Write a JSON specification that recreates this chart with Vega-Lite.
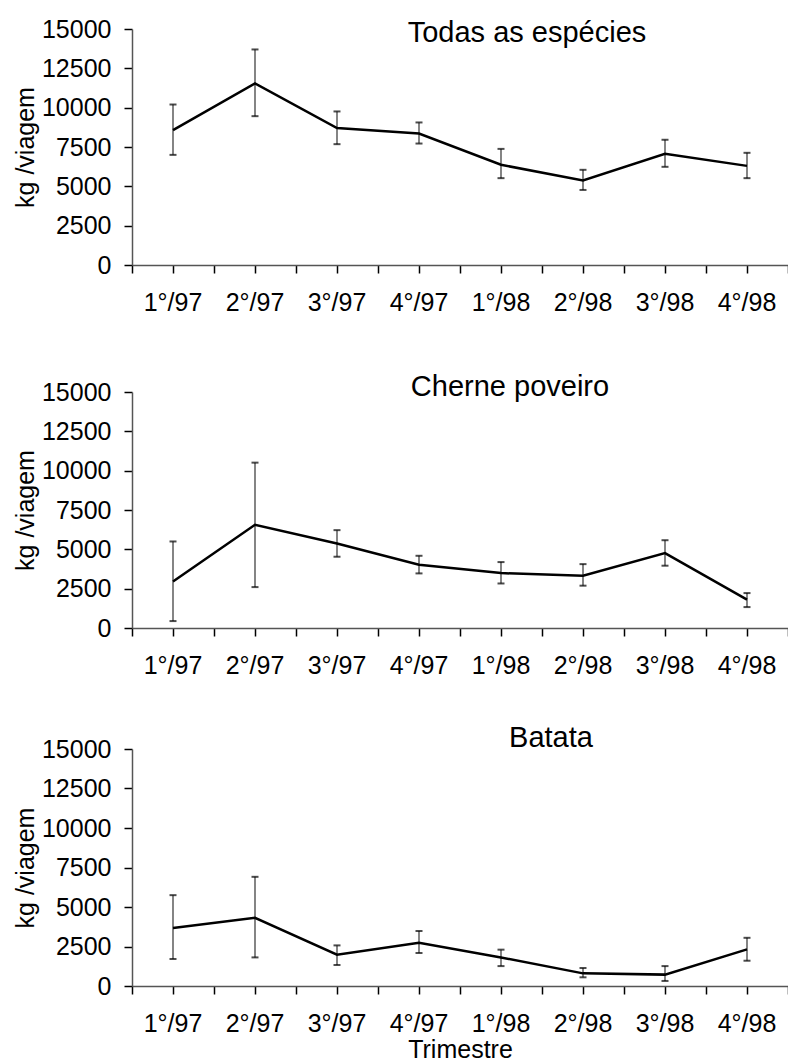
{
  "$schema": "https://vega.github.io/schema/vega-lite/v6.json",
  "padding": {"left": 13, "top": 17, "right": 0, "bottom": 0},
  "background": "#ffffff",
  "config": {
    "font": "Liberation Sans",
    "view": {"stroke": null},
    "axis": {
      "grid": false,
      "labelFont": "Liberation Sans",
      "labelFontSize": 25,
      "labelColor": "#000000",
      "titleFont": "Liberation Sans",
      "titleFontSize": 25,
      "titleFontWeight": "normal",
      "titleColor": "#000000",
      "domainColor": "#555555",
      "domainWidth": 1.5,
      "tickColor": "#000000",
      "tickWidth": 1.5,
      "tickSize": 8
    },
    "title": {"font": "Liberation Sans", "fontSize": 29, "fontWeight": "normal", "color": "#000000"}
  },
  "datasets": {
    "d": [
      {"especie": "Todas as espécies", "trimestre": "1°/97", "media": 8570, "min": 7000, "max": 10200},
      {"especie": "Todas as espécies", "trimestre": "2°/97", "media": 11540, "min": 9460, "max": 13700},
      {"especie": "Todas as espécies", "trimestre": "3°/97", "media": 8700, "min": 7680, "max": 9760},
      {"especie": "Todas as espécies", "trimestre": "4°/97", "media": 8360, "min": 7720, "max": 9060},
      {"especie": "Todas as espécies", "trimestre": "1°/98", "media": 6370, "min": 5520, "max": 7380},
      {"especie": "Todas as espécies", "trimestre": "2°/98", "media": 5370, "min": 4770, "max": 6050},
      {"especie": "Todas as espécies", "trimestre": "3°/98", "media": 7070, "min": 6240, "max": 7960},
      {"especie": "Todas as espécies", "trimestre": "4°/98", "media": 6300, "min": 5520, "max": 7130},
      {"especie": "Cherne poveiro", "trimestre": "1°/97", "media": 2960, "min": 440, "max": 5500},
      {"especie": "Cherne poveiro", "trimestre": "2°/97", "media": 6560, "min": 2600, "max": 10510},
      {"especie": "Cherne poveiro", "trimestre": "3°/97", "media": 5370, "min": 4530, "max": 6220},
      {"especie": "Cherne poveiro", "trimestre": "4°/97", "media": 4020, "min": 3470, "max": 4590},
      {"especie": "Cherne poveiro", "trimestre": "1°/98", "media": 3490, "min": 2830, "max": 4190},
      {"especie": "Cherne poveiro", "trimestre": "2°/98", "media": 3320, "min": 2690, "max": 4060},
      {"especie": "Cherne poveiro", "trimestre": "3°/98", "media": 4760, "min": 3960, "max": 5580},
      {"especie": "Cherne poveiro", "trimestre": "4°/98", "media": 1800, "min": 1330, "max": 2220},
      {"especie": "Batata", "trimestre": "1°/97", "media": 3670, "min": 1710, "max": 5750},
      {"especie": "Batata", "trimestre": "2°/97", "media": 4320, "min": 1810, "max": 6910},
      {"especie": "Batata", "trimestre": "3°/97", "media": 1980, "min": 1330, "max": 2570},
      {"especie": "Batata", "trimestre": "4°/97", "media": 2740, "min": 2090, "max": 3480},
      {"especie": "Batata", "trimestre": "1°/98", "media": 1810, "min": 1260, "max": 2300},
      {"especie": "Batata", "trimestre": "2°/98", "media": 800, "min": 550, "max": 1140},
      {"especie": "Batata", "trimestre": "3°/98", "media": 720, "min": 320, "max": 1260},
      {"especie": "Batata", "trimestre": "4°/98", "media": 2320, "min": 1600, "max": 3050}
    ]
  },
  "bounds": "flush",
  "spacing": 127,
  "vconcat": [
    {
      "width": 656, "height": 236,
      "title": {"text": "Todas as espécies", "frame": "group", "anchor": "middle", "dx": 67, "offset": -54, "baseline": "alphabetic"},
      "data": {"name": "d"},
      "transform": [{"filter": "datum.especie === 'Todas as espécies'"}],
      "layer": [
        {"layer": [
          {"mark": {"type": "rule", "color": "#333333", "strokeWidth": 1.2},
           "encoding": {
             "x": {"field": "trimestre", "type": "ordinal", "sort": ["1°/97","2°/97","3°/97","4°/97","1°/98","2°/98","3°/98","4°/98"], "scale": {"type": "band", "paddingInner": 0, "paddingOuter": 0}, "bandPosition": 0.5, "axis": {"orient": "bottom", "tickBand": "extent", "labels": false, "domain": false, "title": null}},
             "y": {"field": "min", "type": "quantitative", "scale": {"domain": [0, 15000]}, "axis": {"values": [0,2500,5000,7500,10000,12500,15000], "format": "d", "title": "kg /viagem", "titlePadding": 3, "labelPadding": 13}},
             "y2": {"field": "max"}}},
          {"mark": {"type": "tick", "color": "#000000", "size": 7, "thickness": 2},
           "encoding": {
             "x": {"field": "trimestre", "type": "ordinal", "sort": ["1°/97","2°/97","3°/97","4°/97","1°/98","2°/98","3°/98","4°/98"], "scale": {"type": "band", "paddingInner": 0, "paddingOuter": 0}, "bandPosition": 0.5, "axis": {"orient": "bottom", "tickBand": "extent", "labels": false, "domain": false, "title": null}},
             "y": {"field": "min", "type": "quantitative", "scale": {"domain": [0, 15000]}, "axis": {"values": [0,2500,5000,7500,10000,12500,15000], "format": "d", "title": "kg /viagem", "titlePadding": 3, "labelPadding": 13}}}},
          {"mark": {"type": "tick", "color": "#000000", "size": 7, "thickness": 2},
           "encoding": {
             "x": {"field": "trimestre", "type": "ordinal", "sort": ["1°/97","2°/97","3°/97","4°/97","1°/98","2°/98","3°/98","4°/98"], "scale": {"type": "band", "paddingInner": 0, "paddingOuter": 0}, "bandPosition": 0.5, "axis": {"orient": "bottom", "tickBand": "extent", "labels": false, "domain": false, "title": null}},
             "y": {"field": "max", "type": "quantitative", "scale": {"domain": [0, 15000]}, "axis": {"values": [0,2500,5000,7500,10000,12500,15000], "format": "d", "title": "kg /viagem", "titlePadding": 3, "labelPadding": 13}}}}
        ]},
        {"mark": {"type": "line", "color": "#000000", "strokeWidth": 2.5},
         "encoding": {
           "x": {"field": "trimestre", "type": "ordinal", "sort": ["1°/97","2°/97","3°/97","4°/97","1°/98","2°/98","3°/98","4°/98"], "scale": {"type": "band", "paddingInner": 0, "paddingOuter": 0}, "bandPosition": 0.5, "axis": {"orient": "bottom", "tickBand": "center", "labelAngle": 0, "labelPadding": 17, "title": null}},
           "y": {"field": "media", "type": "quantitative", "scale": {"domain": [0, 15000]}, "axis": {"values": [0,2500,5000,7500,10000,12500,15000], "format": "d", "title": "kg /viagem", "titlePadding": 3, "labelPadding": 13}}}}
      ],
      "resolve": {"axis": {"x": "independent"}}
    },
    {
      "bounds": "flush",
      "spacing": 121,
      "vconcat": [
        {
          "width": 656, "height": 236,
          "title": {"text": "Cherne poveiro", "frame": "group", "anchor": "middle", "dx": 50, "offset": -45, "baseline": "alphabetic"},
          "data": {"name": "d"},
          "transform": [{"filter": "datum.especie === 'Cherne poveiro'"}],
          "layer": [
            {"layer": [
              {"mark": {"type": "rule", "color": "#333333", "strokeWidth": 1.2},
               "encoding": {
                 "x": {"field": "trimestre", "type": "ordinal", "sort": ["1°/97","2°/97","3°/97","4°/97","1°/98","2°/98","3°/98","4°/98"], "scale": {"type": "band", "paddingInner": 0, "paddingOuter": 0}, "bandPosition": 0.5, "axis": {"orient": "bottom", "tickBand": "extent", "labels": false, "domain": false, "title": null}},
                 "y": {"field": "min", "type": "quantitative", "scale": {"domain": [0, 15000]}, "axis": {"values": [0,2500,5000,7500,10000,12500,15000], "format": "d", "title": "kg /viagem", "titlePadding": 3, "labelPadding": 13}},
                 "y2": {"field": "max"}}},
              {"mark": {"type": "tick", "color": "#000000", "size": 7, "thickness": 2},
               "encoding": {
                 "x": {"field": "trimestre", "type": "ordinal", "sort": ["1°/97","2°/97","3°/97","4°/97","1°/98","2°/98","3°/98","4°/98"], "scale": {"type": "band", "paddingInner": 0, "paddingOuter": 0}, "bandPosition": 0.5, "axis": {"orient": "bottom", "tickBand": "extent", "labels": false, "domain": false, "title": null}},
                 "y": {"field": "min", "type": "quantitative", "scale": {"domain": [0, 15000]}, "axis": {"values": [0,2500,5000,7500,10000,12500,15000], "format": "d", "title": "kg /viagem", "titlePadding": 3, "labelPadding": 13}}}},
              {"mark": {"type": "tick", "color": "#000000", "size": 7, "thickness": 2},
               "encoding": {
                 "x": {"field": "trimestre", "type": "ordinal", "sort": ["1°/97","2°/97","3°/97","4°/97","1°/98","2°/98","3°/98","4°/98"], "scale": {"type": "band", "paddingInner": 0, "paddingOuter": 0}, "bandPosition": 0.5, "axis": {"orient": "bottom", "tickBand": "extent", "labels": false, "domain": false, "title": null}},
                 "y": {"field": "max", "type": "quantitative", "scale": {"domain": [0, 15000]}, "axis": {"values": [0,2500,5000,7500,10000,12500,15000], "format": "d", "title": "kg /viagem", "titlePadding": 3, "labelPadding": 13}}}}
            ]},
            {"mark": {"type": "line", "color": "#000000", "strokeWidth": 2.5},
             "encoding": {
               "x": {"field": "trimestre", "type": "ordinal", "sort": ["1°/97","2°/97","3°/97","4°/97","1°/98","2°/98","3°/98","4°/98"], "scale": {"type": "band", "paddingInner": 0, "paddingOuter": 0}, "bandPosition": 0.5, "axis": {"orient": "bottom", "tickBand": "center", "labelAngle": 0, "labelPadding": 17, "title": null}},
               "y": {"field": "media", "type": "quantitative", "scale": {"domain": [0, 15000]}, "axis": {"values": [0,2500,5000,7500,10000,12500,15000], "format": "d", "title": "kg /viagem", "titlePadding": 3, "labelPadding": 13}}}}
          ],
          "resolve": {"axis": {"x": "independent"}}
        },
        {
          "width": 656, "height": 237,
          "title": {"text": "Batata", "frame": "group", "anchor": "middle", "dx": 91, "offset": -39, "baseline": "alphabetic"},
          "data": {"name": "d"},
          "transform": [{"filter": "datum.especie === 'Batata'"}],
          "layer": [
            {"layer": [
              {"mark": {"type": "rule", "color": "#333333", "strokeWidth": 1.2},
               "encoding": {
                 "x": {"field": "trimestre", "type": "ordinal", "sort": ["1°/97","2°/97","3°/97","4°/97","1°/98","2°/98","3°/98","4°/98"], "scale": {"type": "band", "paddingInner": 0, "paddingOuter": 0}, "bandPosition": 0.5, "axis": {"orient": "bottom", "tickBand": "extent", "labels": false, "domain": false, "title": null}},
                 "y": {"field": "min", "type": "quantitative", "scale": {"domain": [0, 15000]}, "axis": {"values": [0,2500,5000,7500,10000,12500,15000], "format": "d", "title": "kg /viagem", "titlePadding": 3, "labelPadding": 13}},
                 "y2": {"field": "max"}}},
              {"mark": {"type": "tick", "color": "#000000", "size": 7, "thickness": 2},
               "encoding": {
                 "x": {"field": "trimestre", "type": "ordinal", "sort": ["1°/97","2°/97","3°/97","4°/97","1°/98","2°/98","3°/98","4°/98"], "scale": {"type": "band", "paddingInner": 0, "paddingOuter": 0}, "bandPosition": 0.5, "axis": {"orient": "bottom", "tickBand": "extent", "labels": false, "domain": false, "title": null}},
                 "y": {"field": "min", "type": "quantitative", "scale": {"domain": [0, 15000]}, "axis": {"values": [0,2500,5000,7500,10000,12500,15000], "format": "d", "title": "kg /viagem", "titlePadding": 3, "labelPadding": 13}}}},
              {"mark": {"type": "tick", "color": "#000000", "size": 7, "thickness": 2},
               "encoding": {
                 "x": {"field": "trimestre", "type": "ordinal", "sort": ["1°/97","2°/97","3°/97","4°/97","1°/98","2°/98","3°/98","4°/98"], "scale": {"type": "band", "paddingInner": 0, "paddingOuter": 0}, "bandPosition": 0.5, "axis": {"orient": "bottom", "tickBand": "extent", "labels": false, "domain": false, "title": null}},
                 "y": {"field": "max", "type": "quantitative", "scale": {"domain": [0, 15000]}, "axis": {"values": [0,2500,5000,7500,10000,12500,15000], "format": "d", "title": "kg /viagem", "titlePadding": 3, "labelPadding": 13}}}}
            ]},
            {"mark": {"type": "line", "color": "#000000", "strokeWidth": 2.5},
             "encoding": {
               "x": {"field": "trimestre", "type": "ordinal", "sort": ["1°/97","2°/97","3°/97","4°/97","1°/98","2°/98","3°/98","4°/98"], "scale": {"type": "band", "paddingInner": 0, "paddingOuter": 0}, "bandPosition": 0.5, "axis": {"orient": "bottom", "tickBand": "center", "labelAngle": 0, "labelPadding": 17, "title": "Trimestre", "titlePadding": 1}},
               "y": {"field": "media", "type": "quantitative", "scale": {"domain": [0, 15000]}, "axis": {"values": [0,2500,5000,7500,10000,12500,15000], "format": "d", "title": "kg /viagem", "titlePadding": 3, "labelPadding": 13}}}}
          ],
          "resolve": {"axis": {"x": "independent"}}
        }
      ]
    }
  ]
}
